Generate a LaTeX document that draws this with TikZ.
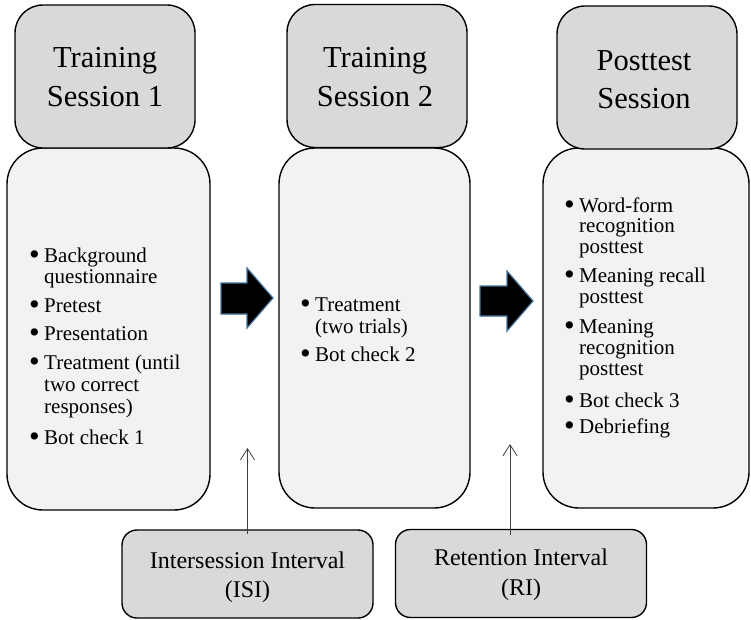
\documentclass[tikz,border=0pt]{standalone}
\usepackage{fontspec}
\usepackage{graphicx}
\setmainfont{Liberation Serif}
\usetikzlibrary{arrows.meta}
\definecolor{hdrfill}{HTML}{D9D9D9}
\definecolor{bodyfill}{HTML}{F2F2F2}
\definecolor{arrowedge}{HTML}{41719C}
\definecolor{thinline}{HTML}{404040}
\tikzset{
  hdr/.style={draw=black, line width=1.4pt, fill=hdrfill, rounded corners=28pt,
    inner sep=0pt, minimum width=180pt, minimum height=143pt},
  bodybox/.style={draw=black, line width=1.4pt, fill=bodyfill, rounded corners=36pt,
    inner sep=0pt},
  intbox/.style={draw=black, line width=1.4pt, fill=hdrfill, rounded corners=15pt,
    inner sep=0pt, minimum width=251pt, minimum height=88pt},
  hdrtxt/.style={anchor=base, inner sep=0pt, font=\fontsize{30.5}{38}\selectfont},
  txt/.style={anchor=base west, inner sep=0pt, font=\fontsize{21}{21.5}\selectfont},
  inttxt/.style={anchor=base, inner sep=0pt, font=\fontsize{24}{28}\selectfont},
  blockarrow/.style={draw=arrowedge, line width=1.2pt, fill=black, line join=miter},
  thinarrow/.style={draw=thinline, line width=0.8pt,
    -{Straight Barb[length=11pt,width=14pt,line width=0.8pt]}},
}
\newcommand\bul{\makebox[12pt][l]{\hspace*{-3pt}\smash{\raisebox{-2.5pt}{\scalebox{1.45}{•}}}}}
\begin{document}
\begin{tikzpicture}[x=1pt,y=-1pt]
\useasboundingbox (0,0) rectangle (751,619);

% session bodies
\node[bodybox, minimum width=203pt, minimum height=362pt] (body1) at (108.5,329) {};
\node[bodybox, minimum width=191pt, minimum height=360pt] (body2) at (374.5,328) {};
\node[bodybox, minimum width=206pt, minimum height=360pt] (body3) at (646,328) {};

% session headers
\node[hdr] (hdr1) at (105,76.5) {};
\node[hdr] (hdr2) at (377,76) {};
\node[hdr] (hdr3) at (647,77.5) {};

\node[hdrtxt] (h1a) at (105,67) {Training};
\node[hdrtxt] (h1b) at (105,106) {Session 1};
\node[hdrtxt] (h2a) at (375,67) {Training};
\node[hdrtxt] (h2b) at (375,106) {Session 2};
\node[hdrtxt] (h3a) at (644,70) {Posttest};
\node[hdrtxt] (h3b) at (644,108) {Session};

% body 1 items
\node[txt] (b1a) at (32,262) {\bul Background};
\node[txt] (b1b) at (44,283) {questionnaire};
\node[txt] (b1c) at (32,312) {\bul Pretest};
\node[txt] (b1d) at (32,340) {\bul Presentation};
\node[txt] (b1e) at (32,369) {\bul Treatment (until};
\node[txt] (b1f) at (44,391) {two correct};
\node[txt] (b1g) at (44,413) {responses)};
\node[txt] (b1h) at (32,444) {\bul Bot check 1};

% body 2 items
\node[txt] (b2a) at (303,311) {\bul Treatment};
\node[txt] (b2b) at (315,333) {(two trials)};
\node[txt] (b2c) at (303,361) {\bul Bot check 2};

% body 3 items
\node[txt] (b3a) at (567,212) {\bul Word-form};
\node[txt] (b3b) at (579,232) {recognition};
\node[txt] (b3c) at (579,253) {posttest};
\node[txt] (b3d) at (567,282) {\bul Meaning recall};
\node[txt] (b3e) at (579,303) {posttest};
\node[txt] (b3f) at (567,333) {\bul Meaning};
\node[txt] (b3g) at (579,354) {recognition};
\node[txt] (b3h) at (579,375) {posttest};
\node[txt] (b3i) at (567,407) {\bul Bot check 3};
\node[txt] (b3j) at (567,433) {\bul Debriefing};

% block arrows
\draw[blockarrow] (221,283) -- (247,283) -- (247,268) -- (273,298) -- (247,328)
  -- (247,314) -- (221,314) -- cycle;
\draw[blockarrow] (480,286) -- (507,286) -- (507,271) -- (533,301) -- (507,331)
  -- (507,316) -- (480,316) -- cycle;

% interval boxes
\node[intbox] (isi) at (247.5,574) {};
\node[intbox] (ri) at (521,573.5) {};
\node[inttxt] (isia) at (247.5,568) {Intersession Interval};
\node[inttxt] (isib) at (247.5,597) {(ISI)};
\node[inttxt] (ria) at (521,565) {Retention Interval};
\node[inttxt] (rib) at (521,595) {(RI)};

% thin arrows
\coordinate (isiend) at (247.5,448);
\coordinate (riend) at (510,444);
\draw[thinarrow] ([yshift=-5pt]isi.north) -- (isiend);
\draw[thinarrow] ([yshift=-6pt]ri.north -| riend) -- (riend);
\end{tikzpicture}
\end{document}
